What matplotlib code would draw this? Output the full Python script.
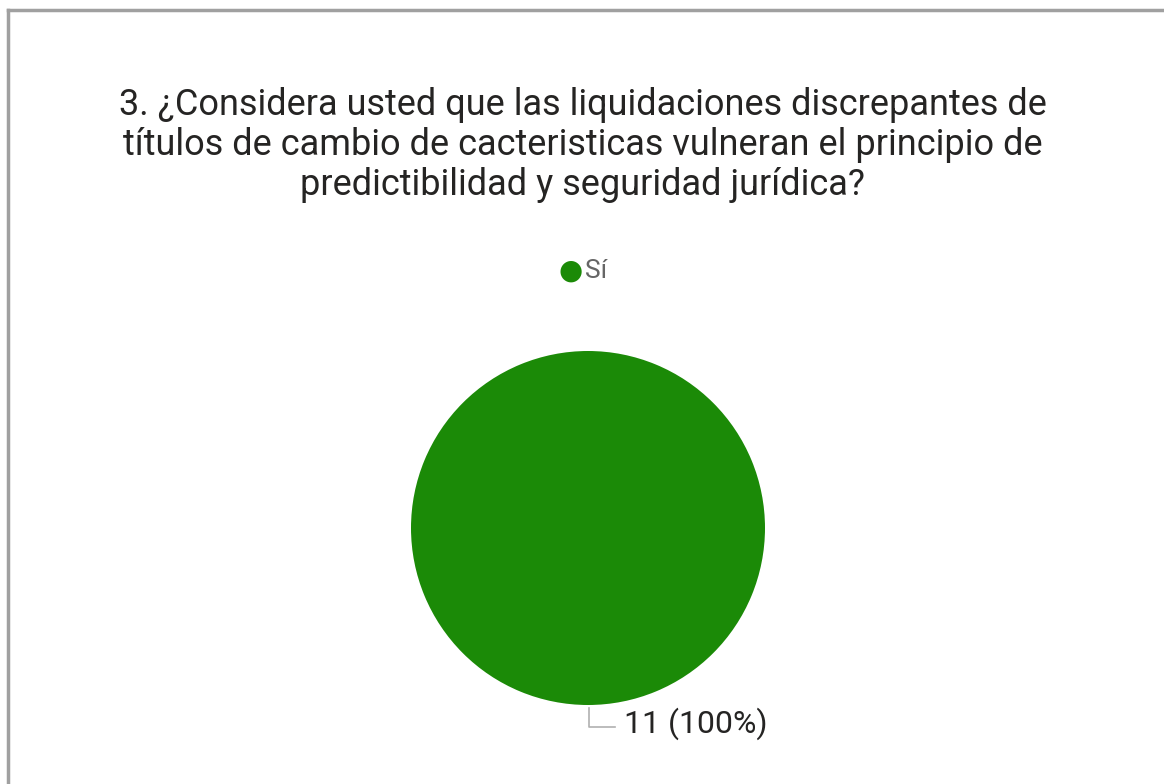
import matplotlib.pyplot as plt
from matplotlib.lines import Line2D

# datos
categorias = ["Sí"]
valores = [11]
colores = ["#1b8a07"]
titulo = ("3. ¿Considera usted que las liquidaciones discrepantes de\n"
          "títulos de cambio de cacteristicas vulneran el principio de\n"
          "predictibilidad y seguridad jurídica?")

W, H = 1164, 784
fig = plt.figure(figsize=(W / 100, H / 100), dpi=100)
fig.patch.set_facecolor("white")

# borde gris arriba e izquierda
fig.add_artist(Line2D([8 / W, 8 / W], [0, 1 - 10 / H], color="#a0a0a0", lw=2.5,
                      transform=fig.transFigure))
fig.add_artist(Line2D([8 / W, 1], [1 - 10 / H, 1 - 10 / H], color="#a0a0a0", lw=2.5,
                      transform=fig.transFigure))

fig.text(583 / W, 1 - 145 / H, titulo, ha="center", va="center", fontsize=26,
         family="Roboto", color="#252423", linespacing=1.15)

# pie
r = 177
cx, cy = 588, 528
ax = fig.add_axes([(cx - r) / W, 1 - (cy + r) / H, 2 * r / W, 2 * r / H])
ax.pie(valores, colors=colores, startangle=90, counterclock=False, radius=1,
       wedgeprops=dict(linewidth=0))
ax.set_xlim(-1, 1)
ax.set_ylim(-1, 1)
ax.set_aspect("auto")
ax.axis("off")

# leyenda
fig.text(571 / W, 1 - 271 / H, "●", ha="center", va="center", fontsize=20,
         color=colores[0], family="DejaVu Sans")
fig.text(585 / W, 1 - 271 / H, categorias[0], ha="left", va="center", fontsize=19,
         color="#666666", family="Roboto")

# etiqueta de dato
total = sum(valores)
fig.add_artist(Line2D([589 / W, 589 / W, 615 / W], [1 - 708 / H, 1 - 727 / H, 1 - 727 / H],
                      color="#b0b0b0", lw=1.2, transform=fig.transFigure))
fig.text(624 / W, 1 - 724 / H, f"{valores[0]} ({valores[0] / total:.0%})", ha="left",
         va="center", fontsize=23, color="#252423", family="Roboto")

fig.savefig("out.png", dpi=100)
